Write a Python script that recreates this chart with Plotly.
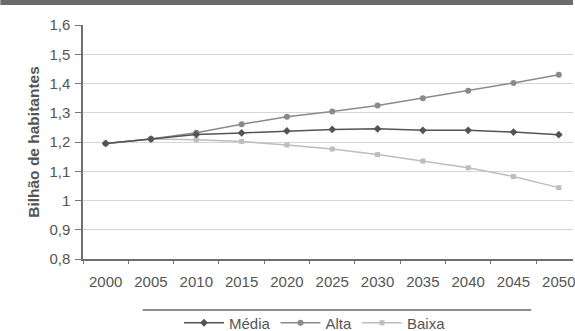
import plotly.graph_objects as go

# Population projection scenarios (billion inhabitants)
years = ["2000", "2005", "2010", "2015", "2020", "2025", "2030", "2035", "2040", "2045", "2050"]
media = [1.195, 1.21, 1.226, 1.231, 1.238, 1.243, 1.245, 1.240, 1.240, 1.234, 1.225]
alta = [1.195, 1.21, 1.232, 1.261, 1.286, 1.304, 1.325, 1.350, 1.375, 1.402, 1.430]
baixa = [1.195, 1.21, 1.208, 1.202, 1.190, 1.176, 1.157, 1.135, 1.112, 1.082, 1.044]

y_ticks = [0.8, 0.9, 1.0, 1.1, 1.2, 1.3, 1.4, 1.5, 1.6]
y_labels = ["0,8", "0,9", "1", "1,1", "1,2", "1,3", "1,4", "1,5", "1,6"]

W, H = 575, 331
L, R, T, B = 83, 0, 25, 72

fig = go.Figure()
fig.add_trace(go.Scatter(x=years, y=baixa, name="Baixa", mode="lines+markers",
                         line=dict(color="#bdbdbd", width=1.5),
                         marker=dict(symbol="square", size=5, color="#bdbdbd")))
fig.add_trace(go.Scatter(x=years, y=alta, name="Alta", mode="lines+markers",
                         line=dict(color="#8a8a8a", width=1.5),
                         marker=dict(symbol="circle", size=6, color="#8a8a8a")))
fig.add_trace(go.Scatter(x=years, y=media, name="Média", mode="lines+markers",
                         line=dict(color="#545454", width=1.5),
                         marker=dict(symbol="diamond", size=6, color="#545454")))

plot_w = W - L - R
plot_h = H - T - B

fig.update_layout(
    width=W, height=H,
    margin=dict(l=L, r=R, t=T, b=B, pad=0),
    paper_bgcolor="white", plot_bgcolor="white",
    font=dict(family="Liberation Sans, Arial, sans-serif", size=15, color="#555555"),
    showlegend=True,
    legend=dict(orientation="h", traceorder="reversed", xref="container", yref="container",
                x=315 / W, xanchor="center", y=1 - 323 / H, yanchor="middle",
                font=dict(size=15, color="#555555"), bgcolor="rgba(0,0,0,0)",
                itemwidth=40, entrywidth=0),
    xaxis=dict(type="category", categoryorder="array", categoryarray=years,
               range=[-0.5, -0.5 + plot_w / 45.5], tickson="boundaries",
               ticks="outside", ticklen=3, tickcolor="#777777",
               showline=True, linecolor="#6f6f6f", linewidth=1.5,
               showgrid=False, zeroline=False, ticklabelstandoff=8,
               tickfont=dict(size=15, color="#555555")),
    yaxis=dict(range=[0.8, 1.6], tickvals=y_ticks, ticktext=y_labels,
               ticks="outside", ticklen=6, tickcolor="#777777",
               showline=True, linecolor="#6f6f6f", linewidth=1.5,
               showgrid=True, gridcolor="#d6d6d6", gridwidth=1, zeroline=False,
               ticklabelstandoff=2, tickfont=dict(size=15, color="#555555"),
               title=dict(text="<b>Bilhão de habitantes</b>", standoff=6,
                          font=dict(size=15.5, color="#555555"))),
    shapes=[
        # dark header band across the top
        dict(type="rect", xref="paper", yref="paper",
             x0=-L / plot_w, x1=1, y0=(H - B - 5) / plot_h, y1=(H - B) / plot_h + 0.01,
             fillcolor="#6b6b6b", line=dict(width=0), layer="above"),
        # rule above the legend
        dict(type="line", xref="paper", yref="paper",
             x0=(143 - L) / plot_w, x1=(533 - L) / plot_w,
             y0=(H - B - 310) / plot_h, y1=(H - B - 310) / plot_h,
             line=dict(color="#666666", width=1.5)),
    ],
)

fig.write_html("out.html")
